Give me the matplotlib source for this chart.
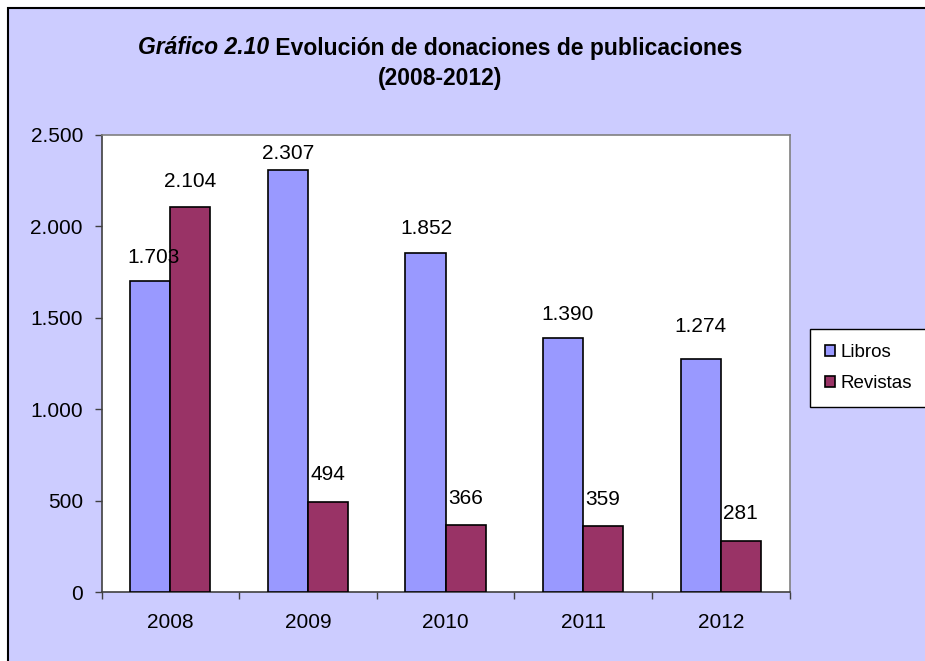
import numpy as np
import matplotlib
matplotlib.use("Agg")
import matplotlib.pyplot as plt
from matplotlib.patches import Rectangle
from matplotlib.ticker import FuncFormatter

plt.rcParams['font.family'] = ['Liberation Sans', 'DejaVu Sans']

# -------------------- datos --------------------
years = ['2008', '2009', '2010', '2011', '2012']
libros = [1703, 2307, 1852, 1390, 1274]
revistas = [2104, 494, 366, 359, 281]
series_names = ['Libros', 'Revistas']
title_italic = 'Gráfico 2.10'
title_rest = ' Evolución de donaciones de publicaciones'
title_line2 = '(2008-2012)'

# estilo
c_libros = '#9999FF'
c_revistas = '#993366'
bg = '#CCCCFF'
W, H = 925, 661
# desplazamiento (px) de las etiquetas sobre cada barra, como en el original
off_libros = [23, 17, 25, 23, 33]
dx_libros = [3, 0, 1, 4, 0]
off_revistas = [26, 27, 27, 27, 27]


def fx(px):
    return px / W


def fy(py):
    return 1 - py / H


fig = plt.figure(figsize=(W / 100, H / 100), dpi=100, facecolor='white')
fig.patches.append(Rectangle((fx(8), -0.02), 1.1, fy(8) + 0.02, transform=fig.transFigure,
                             facecolor=bg, edgecolor='black', lw=1.5, zorder=-10))

left, right, top, bottom = 101.5, 789.5, 135, 592
ax = fig.add_axes([fx(left), fy(bottom), fx(right - left), (bottom - top) / H])
ax.set_facecolor('white')

x = np.arange(len(years))
w = 0.291
b1 = ax.bar(x - w / 2, libros, w, color=c_libros, edgecolor='black', lw=1.2, label=series_names[0], zorder=3)
b2 = ax.bar(x + w / 2, revistas, w, color=c_revistas, edgecolor='black', lw=1.2, label=series_names[1], zorder=3)

fmt = lambda v: f'{int(v):,}'.replace(',', '.')
for i in range(len(years)):
    ax.annotate(fmt(libros[i]), (x[i] - w / 2, libros[i]), xytext=(dx_libros[i] * 0.72, off_libros[i] * 0.72),
                textcoords='offset points', ha='center', va='center', fontsize=15, zorder=5,
                annotation_clip=False)
    ax.annotate(fmt(revistas[i]), (x[i] + w / 2, revistas[i]), xytext=(0, off_revistas[i] * 0.72),
                textcoords='offset points', ha='center', va='center', fontsize=15, zorder=5,
                annotation_clip=False)

ax.set_xlim(-0.5, len(years) - 0.5)
ax.set_ylim(0, 2500)
ax.set_yticks(np.arange(0, 2501, 500))
ax.yaxis.set_major_formatter(FuncFormatter(lambda v, p: fmt(v)))
ax.tick_params(axis='y', length=5, width=1, pad=8.4, labelsize=15, color='#404040')
ax.set_xticks(x)
ax.set_xticklabels(years)
ax.set_xticks(np.arange(-0.5, len(years), 1.0), minor=True)
ax.tick_params(axis='x', which='major', length=0, pad=15, labelsize=15)
ax.tick_params(axis='x', which='minor', length=5, width=1, color='#404040')

for s in ['top', 'right']:
    ax.spines[s].set_color('#808080')
    ax.spines[s].set_linewidth(1.2)
for s in ['left', 'bottom']:
    ax.spines[s].set_color('#404040')
    ax.spines[s].set_linewidth(1.2)

# leyenda
leg = fig.legend(handles=[b1, b2], loc='upper left', bbox_to_anchor=(fx(810), fy(329)),
                 borderaxespad=0, fontsize=13.5, frameon=True, fancybox=False, framealpha=1,
                 handlelength=0.55, handleheight=0.55, handletextpad=0.25,
                 labelspacing=0.75, borderpad=0.8)
leg.get_frame().set_edgecolor('black')
leg.get_frame().set_linewidth(1.0)
leg.get_frame().set_facecolor('white')

# título en dos piezas (cursiva + normal)
r = fig.canvas.get_renderer()
t1 = fig.text(0, fy(48), title_italic, fontsize=16.5, fontweight='bold', style='italic', va='center', ha='left')
t2 = fig.text(0, fy(48), title_rest, fontsize=16.5, fontweight='bold', va='center', ha='left')
w1 = t1.get_window_extent(r).width
w2 = t2.get_window_extent(r).width
x0 = 440 - (w1 + w2) / 2
t1.set_x(fx(x0))
t2.set_x(fx(x0 + w1))
fig.text(fx(440), fy(79), title_line2, fontsize=16.5, fontweight='bold', ha='center', va='center')

fig.savefig('out.png', dpi=100, facecolor=fig.get_facecolor())
